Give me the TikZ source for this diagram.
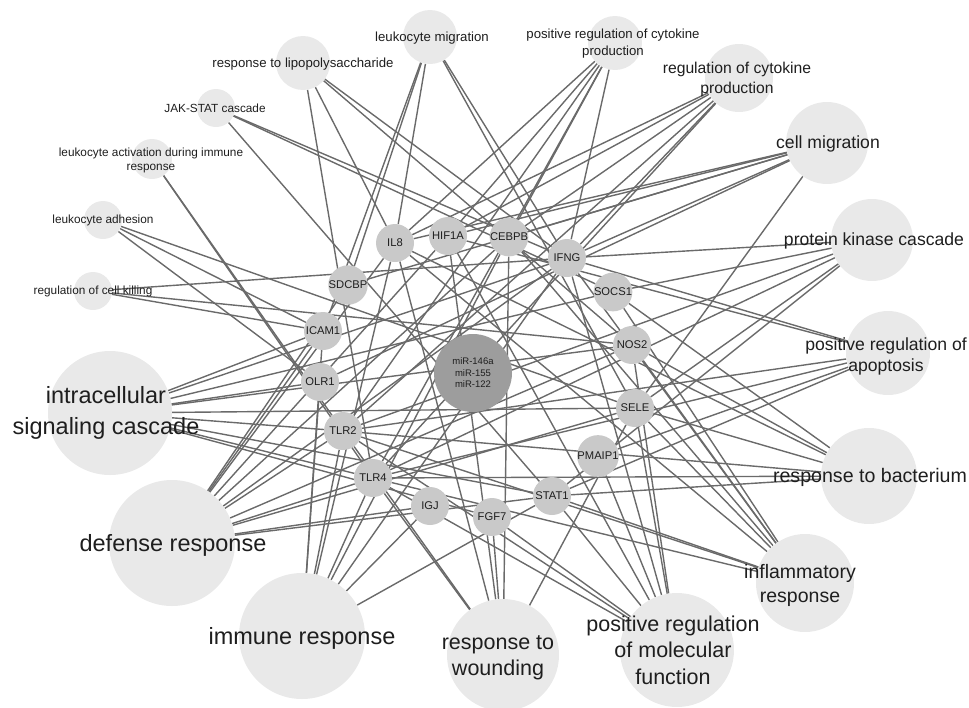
\documentclass[tikz,border=0pt]{standalone}
\usepackage{fontspec}
\setmainfont{Liberation Sans}
\usetikzlibrary{backgrounds}

\definecolor{gofill}{HTML}{E9E9E9}
\definecolor{genefill}{HTML}{C9C9C9}
\definecolor{mirfill}{HTML}{9D9D9D}
\definecolor{edgecol}{HTML}{6A6A6A}
\definecolor{ink}{HTML}{1E1E1E}

\begin{document}
\begin{tikzpicture}[x=1pt,y=-1pt,
  go/.style={circle,fill=gofill,inner sep=0pt,minimum size=#1},
  gene/.style={circle,fill=genefill,inner sep=0pt,minimum size=38pt,text=ink,font=\fontsize{11.2}{13}\selectfont},
  mir/.style={circle,fill=mirfill,inner sep=0pt,minimum size=78pt,align=center,text=ink,font=\fontsize{9.5}{11.5}\selectfont},
  lab/.style 2 args={align=center,text=ink,inner sep=0pt,font=\fontsize{#1}{#2}\selectfont},
  ed/.style={edgecol,line width=1.4pt}]
\useasboundingbox (0,0) rectangle (969,707);

% GO terms
\node[go=54pt] (lm) at (430,37) {};
\node[lab={13.2}{16}] (lmT) at (432,38) {leukocyte migration};
\node[go=54pt] (prcp) at (615,43) {};
\node[lab={13.2}{16.5}] (prcpT) at (613,43.5) {positive regulation of cytokine\\production};
\node[go=54pt] (lps) at (303,63) {};
\node[lab={13.2}{16}] (lpsT) at (303,64) {response to lipopolysaccharide};
\node[go=68pt] (rcp) at (739,78) {};
\node[lab={15.7}{20}] (rcpT) at (737,79) {regulation of cytokine\\production};
\node[go=38pt] (jak) at (216,108) {};
\node[lab={11.8}{14}] (jakT) at (215,108) {JAK-STAT cascade};
\node[go=40pt] (la) at (152,159) {};
\node[lab={11.8}{14}] (laT) at (151,160) {leukocyte activation during immune\\response};
\node[go=82pt] (cm) at (827,143) {};
\node[lab={17.6}{21}] (cmT) at (828,144) {cell migration};
\node[go=38pt] (lad) at (103,220) {};
\node[lab={11.8}{14}] (ladT) at (103,220) {leukocyte adhesion};
\node[go=82pt] (pkc) at (872,240) {};
\node[lab={17.6}{21}] (pkcT) at (874,241) {protein kinase cascade};
\node[go=38pt] (rck) at (93,291) {};
\node[lab={11.8}{14}] (rckT) at (93,291) {regulation of cell killing};
\node[go=84pt] (apo) at (888,353) {};
\node[lab={17.6}{21}] (apoT) at (886,356) {positive regulation of\\apoptosis};
\node[go=124pt] (isc) at (110,413) {};
\node[lab={23.5}{31}] (iscT) at (106,413) {intracellular\\signaling cascade};
\node[go=96pt] (bac) at (869,476) {};
\node[lab={19.6}{24}] (bacT) at (870,477) {response to bacterium};
\node[go=126pt] (def) at (172,543) {};
\node[lab={23.5}{28}] (defT) at (173,545) {defense response};
\node[go=98pt] (inf) at (805,583) {};
\node[lab={19.5}{24}] (infT) at (800,585) {inflammatory\\response};
\node[go=126pt] (imm) at (302,636) {};
\node[lab={23.5}{28}] (immT) at (302,638) {immune response};
\node[go=112pt] (wnd) at (503,655) {};
\node[lab={21.5}{26}] (wndT) at (498,658) {response to\\wounding};
\node[go=114pt] (mol) at (677,650) {};
\node[lab={21.5}{26.5}] (molT) at (673,650) {positive regulation\\of molecular\\function};

% genes
\node[gene] (il8) at (395,243) {IL8};
\node[gene] (hif) at (448,236) {HIF1A};
\node[gene] (cebpb) at (509,237) {CEBPB};
\node[gene] (ifng) at (567,258) {IFNG};
\node[gene] (sdcbp) at (348,285) {SDCBP};
\node[gene] (socs) at (613,292) {SOCS1};
\node[gene] (icam) at (323,331) {ICAM1};
\node[gene] (nos) at (632,345) {NOS2};
\node[gene] (olr) at (320,382) {OLR1};
\node[gene] (sele) at (635,408) {SELE};
\node[gene] (tlr2) at (343,431) {TLR2};
\node[gene] (pmaip) at (598,456) {PMAIP1};
\node[gene] (tlr4) at (373,478) {TLR4};
\node[gene] (igj) at (430,506) {IGJ};
\node[gene] (fgf) at (492,517) {FGF7};
\node[gene] (stat) at (552,496) {STAT1};
\node[mir] (mir) at (473,373) {miR-146a\\miR-155\\miR-122};

% gene -- term links
\begin{scope}[on background layer]
\foreach \g in {sdcbp,il8,sele,ifng,icam} \draw[ed] (lm) -- (\g);
\foreach \g in {ifng,tlr2,tlr4,hif,il8,cebpb} \draw[ed] (prcp) -- (\g);
\foreach \g in {tlr4,il8,nos,ifng} \draw[ed] (lps) -- (\g);
\foreach \g in {ifng,tlr2,tlr4,hif,cebpb,il8} \draw[ed] (rcp) -- (\g);
\foreach \g in {stat,socs,ifng} \draw[ed] (jak) -- (\g);
\foreach \g in {tlr2,tlr4} \draw[ed] (la) -- (\g);
\foreach \g in {il8,hif,cebpb,sdcbp,ifng,olr,sele} \draw[ed] (cm) -- (\g);
\foreach \g in {icam,sele,olr} \draw[ed] (lad) -- (\g);
\foreach \g in {ifng,socs,tlr4,tlr2,stat,sele} \draw[ed] (pkc) -- (\g);
\foreach \g in {ifng,icam,nos} \draw[ed] (rck) -- (\g);
\foreach \g in {ifng,tlr2,tlr4,pmaip,stat,hif} \draw[ed] (apo) -- (\g);
\foreach \g in {icam,olr,ifng,socs,nos,sele,tlr2,stat,tlr4,fgf} \draw[ed] (isc) -- (\g);
\foreach \g in {socs,il8,sele,tlr2,tlr4,stat,nos} \draw[ed] (bac) -- (\g);
\foreach \g in {il8,hif,icam,sdcbp,ifng,nos,tlr2,tlr4,sele,stat,cebpb,igj} \draw[ed] (def) -- (\g);
\foreach \g in {sele,nos,ifng,cebpb,stat,tlr4,tlr2,il8,socs} \draw[ed] (inf) -- (\g);
\foreach \g in {olr,icam,tlr2,tlr4,igj,il8,ifng,stat,cebpb} \draw[ed] (imm) -- (\g);
\foreach \g in {tlr2,tlr4,fgf,cebpb,hif,il8,sele} \draw[ed] (wnd) -- (\g);
\foreach \g in {sele,pmaip,stat,fgf,tlr2,tlr4,ifng,hif,nos} \draw[ed] (mol) -- (\g);
\end{scope}
\end{tikzpicture}
\end{document}
